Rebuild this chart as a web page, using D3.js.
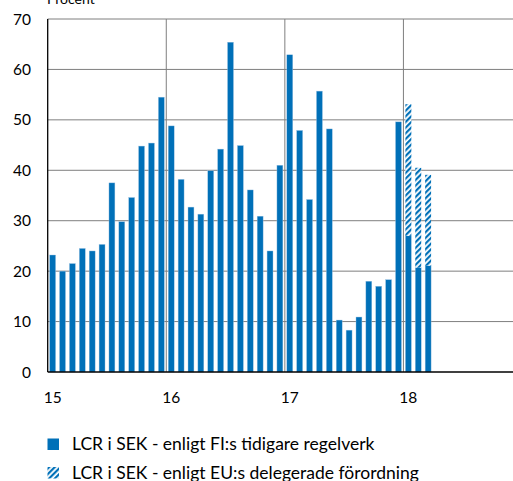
<!DOCTYPE html>
<html>
<head>
<meta charset="utf-8">
<script src="https://cdn.jsdelivr.net/npm/d3@7"></script>
<style>
  body { margin: 0; background: #fff; }
  svg { display: block; font-family: Lato, "Open Sans", sans-serif; }
</style>
</head>
<body>
<div id="chart"></div>
<script>
// monthly values jan 2015 - mar 2018
const fiValues = [
  23.2, 20.0, 21.5, 24.5, 24.0, 25.3, 37.5, 29.8, 34.6, 44.8, 45.4, 54.5,
  48.8, 38.2, 32.7, 31.3, 39.9, 44.2, 65.4, 44.9, 36.1, 30.9, 24.0, 41.0,
  62.9, 47.9, 34.2, 55.7, 48.2, 10.3, 8.3, 10.9, 18.0, 17.0, 18.3, 49.6,
  27.0, 20.7, 21.1
];
// EU delegated regulation, only last three months
const euValues = [
  null, null, null, null, null, null, null, null, null, null, null, null,
  null, null, null, null, null, null, null, null, null, null, null, null,
  null, null, null, null, null, null, null, null, null, null, null, null,
  53.1, 40.5, 39.1
];
const yearLabels = ["15", "16", "17", "18"];
const yTicks = [0, 10, 20, 30, 40, 50, 60, 70];
const legendLabels = [
  "LCR i SEK - enligt FI:s tidigare regelverk",
  "LCR i SEK - enligt EU:s delegerade förordning"
];

const W = 513, H = 481;
const plotLeft = 47.7, plotTop = 19, plotBottom = 372, plotRight = 522;
const nMonths = 48;
const blue = "#0070b8";

const svg = d3.select("#chart").append("svg")
  .attr("width", W).attr("height", H);

// diagonal hatch pattern
const pat = svg.append("defs").append("pattern")
  .attr("id", "hatch")
  .attr("patternUnits", "userSpaceOnUse")
  .attr("width", 4).attr("height", 4)
  .attr("patternTransform", "rotate(45)");
pat.append("rect").attr("width", 4).attr("height", 4).attr("fill", "#fff");
pat.append("rect").attr("width", 2.2).attr("height", 4).attr("fill", blue);

const x = d3.scaleBand()
  .domain(d3.range(nMonths))
  .range([plotLeft, plotRight])
  .paddingInner(0.4)
  .paddingOuter(0.2);

const xl = d3.scaleLinear().domain([0, nMonths]).range([plotLeft, plotRight]);

const y = d3.scaleLinear().domain([0, 70]).range([plotBottom, plotTop]);

// horizontal grid
svg.append("g").selectAll("line")
  .data(yTicks.filter(d => d > 0))
  .enter().append("line")
  .attr("x1", plotLeft).attr("x2", W)
  .attr("y1", d => y(d)).attr("y2", d => y(d))
  .attr("stroke", "#7f7f7f").attr("stroke-width", 1);

// vertical year grid
svg.append("g").selectAll("line")
  .data([12, 24, 36, 48])
  .enter().append("line")
  .attr("x1", d => xl(d)).attr("x2", d => xl(d))
  .attr("y1", plotTop).attr("y2", plotBottom)
  .attr("stroke", "#7f7f7f").attr("stroke-width", 1);

// solid bars
svg.append("g").selectAll("rect")
  .data(fiValues)
  .enter().append("rect")
  .attr("x", (d, i) => x(i))
  .attr("y", d => y(d))
  .attr("width", x.bandwidth())
  .attr("height", d => y(0) - y(d))
  .attr("fill", blue)
  .attr("stroke", "#9cc3e4")
  .attr("stroke-width", 0.4);

// hatched part on top
svg.append("g").selectAll("rect")
  .data(euValues.map((d, i) => ({ i: i, eu: d, fi: fiValues[i] })).filter(d => d.eu != null))
  .enter().append("rect")
  .attr("x", d => x(d.i))
  .attr("y", d => y(d.eu))
  .attr("width", x.bandwidth())
  .attr("height", d => y(d.fi) - y(d.eu))
  .attr("fill", "url(#hatch)");

// axes lines
svg.append("line")
  .attr("x1", plotLeft).attr("x2", plotLeft)
  .attr("y1", plotTop).attr("y2", plotBottom)
  .attr("stroke", "#000").attr("stroke-width", 1.3);
svg.append("line")
  .attr("x1", plotLeft).attr("x2", W)
  .attr("y1", plotBottom).attr("y2", plotBottom)
  .attr("stroke", "#000").attr("stroke-width", 1.5);

// y labels
svg.append("g").selectAll("text")
  .data(yTicks)
  .enter().append("text")
  .attr("x", 31)
  .attr("y", d => y(d) + 5.5)
  .attr("text-anchor", "end")
  .attr("font-size", 15.5)
  .attr("fill", "#000")
  .text(d => d);

// axis title, partly above the top edge as in the source
svg.append("text")
  .attr("x", 47).attr("y", 4)
  .attr("font-size", 14)
  .text("Procent");

// x labels, centred on january bar
svg.append("g").selectAll("text")
  .data(yearLabels)
  .enter().append("text")
  .attr("x", (d, i) => x(i * 12) + x.bandwidth() / 2)
  .attr("y", 403)
  .attr("text-anchor", "middle")
  .attr("font-size", 15.5)
  .text(d => d);

// legend
const leg = svg.append("g");
legendLabels.forEach((t, i) => {
  const ly = 438.5 + i * 28.5;
  leg.append("rect")
    .attr("x", 47.5).attr("y", ly)
    .attr("width", 11.5).attr("height", 11.5)
    .attr("fill", i === 0 ? blue : "url(#hatch)");
  leg.append("text")
    .attr("x", 72).attr("y", ly + 11.5)
    .attr("font-size", 17.5)
    .text(t);
});
</script>
</body>
</html>
